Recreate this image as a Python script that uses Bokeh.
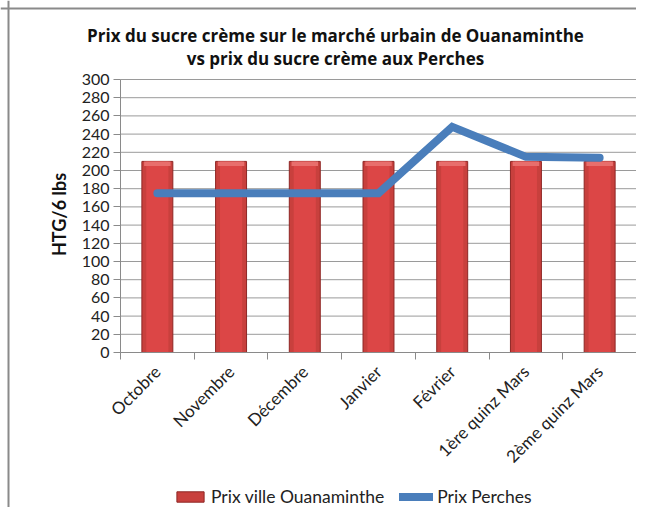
import math
from bokeh.plotting import figure
from bokeh.models import (Range1d, FixedTicker, Legend, LegendItem,
                          Label, ColumnDataSource, Span)
from bokeh.embed import file_html
from bokeh.resources import INLINE

categories = ["Octobre", "Novembre", "Décembre", "Janvier", "Février",
              "1ère quinz Mars", "2ème quinz Mars"]
prix_ouanaminthe = [210, 210, 210, 210, 210, 210, 210]
prix_perches = [175, 175, 175, 175, 248, 215, 214]
y_ticks = list(range(0, 301, 20))
y_max = 300

title_line1 = "Prix du sucre crème sur le marché urbain de Ouanaminthe"
title_line2 = "vs prix du sucre crème aux Perches"
y_label = "HTG/6 lbs"

FONT = "Lato"
TITLE_FONT = "Open Sans"
W, H = 636, 507
# pixel layout of the plotting area inside the canvas
PLOT_LEFT, PLOT_RIGHT, PLOT_TOP, PLOT_BOTTOM = 120, 636, 79, 352
n = len(categories)
px_x = (PLOT_RIGHT - PLOT_LEFT) / n
px_y = (PLOT_BOTTOM - PLOT_TOP) / y_max
x_lo = -PLOT_LEFT / px_x
x_hi = n + (W - PLOT_RIGHT) / px_x
y_lo = -(H - PLOT_BOTTOM) / px_y
y_hi = y_max + PLOT_TOP / px_y

xc = [i + 0.5 for i in range(n)]
src = ColumnDataSource(dict(x=xc, bar=prix_ouanaminthe, line=prix_perches,
                            bevel=[v - 5 for v in prix_ouanaminthe]))
grid_src = ColumnDataSource(dict(y=y_ticks, x0=[0] * len(y_ticks),
                                 x1=[n] * len(y_ticks)))

p = figure(width=W, height=H, output_backend="svg", toolbar_location=None,
           x_range=Range1d(x_lo, x_hi), y_range=Range1d(y_lo, y_hi),
           min_border_left=0, min_border_right=0, min_border_top=0,
           min_border_bottom=0)
p.outline_line_color = None
p.background_fill_color = "white"
p.border_fill_color = "white"

# chart frame (top and left edges visible)
p.add_layout(Span(location=y_max + 71 / px_y, dimension="width",
                  line_color="#8a8a8a", line_width=2))
p.add_layout(Span(location=-112 / px_x, dimension="height",
                  line_color="#8a8a8a", line_width=2))

# grid lines
p.xgrid.grid_line_color = None
p.ygrid.grid_line_color = None
p.segment(x0="x0", x1="x1", y0="y", y1="y", source=grid_src,
          line_color="#9a9a9a", line_width=1)

# y axis
p.yaxis.fixed_location = 0
p.yaxis.ticker = FixedTicker(ticks=y_ticks)
p.yaxis.bounds = (0, y_max)
p.yaxis.axis_line_color = "#8a8a8a"
p.yaxis.major_tick_line_color = "#8a8a8a"
p.yaxis.major_tick_out = 7
p.yaxis.major_tick_in = 0
p.yaxis.minor_tick_line_color = None
p.yaxis.major_label_text_font = FONT
p.yaxis.major_label_text_font_size = "16px"
p.yaxis.major_label_text_color = "#222222"
p.yaxis.major_label_standoff = 4

# x axis at y = 0
p.xaxis.fixed_location = 0
p.xaxis.bounds = (0, n)
p.xaxis.ticker = FixedTicker(ticks=xc, minor_ticks=list(range(n + 1)))
p.xaxis.major_label_overrides = {x: c for x, c in zip(xc, categories)}
p.xaxis.major_label_orientation = math.pi / 4
p.xaxis.major_tick_line_color = None
p.xaxis.minor_tick_line_color = "#8a8a8a"
p.xaxis.minor_tick_out = 7
p.xaxis.minor_tick_in = 0
p.xaxis.axis_line_color = "#8a8a8a"
p.xaxis.major_label_text_font = FONT
p.xaxis.major_label_text_font_size = "17px"
p.xaxis.major_label_text_color = "#222222"
p.xaxis.major_label_standoff = 9

# bars (cylinder-ish look)
outer = p.vbar(x="x", top="bar", width=0.42, source=src,
               fill_color="#C8403D", line_color="#8E2624", line_width=1)
p.vbar(x="x", top="bar", width=0.30, source=src,
       fill_color="#DC4646", line_color=None)
p.vbar(x="x", top="bar", bottom="bevel", width=0.36, source=src,
       fill_color="#E86E6C", line_color=None)

# line
ln = p.line(x="x", y="line", source=src, line_color="#4A7EBB", line_width=8,
            line_cap="round", line_join="miter")

legend = Legend(items=[LegendItem(label="Prix ville Ouanaminthe", renderers=[outer]),
                       LegendItem(label="Prix Perches", renderers=[ln])],
                orientation="horizontal", location=(173, 0),
                label_text_font=FONT, label_text_font_size="17.5px",
                label_text_color="#222222",
                glyph_width=34, glyph_height=13, label_standoff=4, spacing=15,
                padding=0, margin=0, border_line_color=None,
                background_fill_alpha=0)
p.add_layout(legend, "center")

p.add_layout(Label(x=58, y=H - 214, x_units="screen", y_units="screen",
                   text=y_label, angle=math.pi / 2, text_align="center",
                   text_baseline="middle", text_font=FONT, text_font_style="bold",
                   text_font_size="18px", text_color="#111111"))
p.add_layout(Label(x=335, y=H - 35, x_units="screen", y_units="screen",
                   text=title_line1, text_align="center", text_baseline="middle",
                   text_font=TITLE_FONT, text_font_style="bold", text_font_size="17px",
                   text_color="#111111"))
p.add_layout(Label(x=335, y=H - 58, x_units="screen", y_units="screen",
                   text=title_line2, text_align="center", text_baseline="middle",
                   text_font=TITLE_FONT, text_font_style="bold", text_font_size="17px",
                   text_color="#111111"))

open("out.html", "w").write(file_html(p, INLINE))
